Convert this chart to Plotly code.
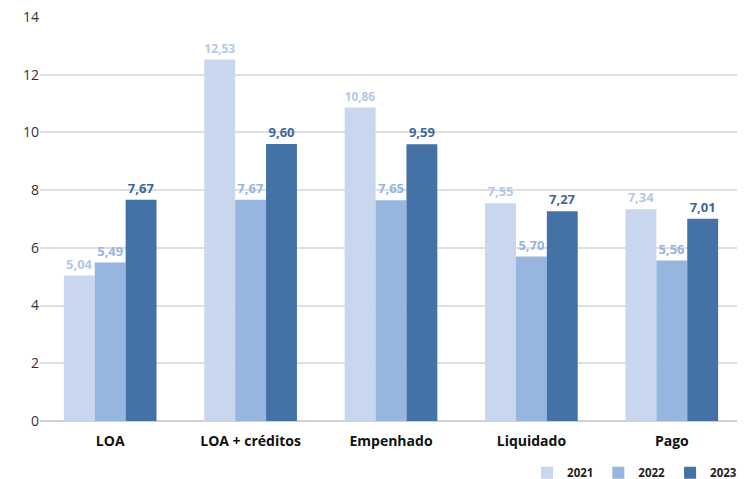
import plotly.graph_objects as go

categories = ["LOA", "LOA + créditos", "Empenhado", "Liquidado", "Pago"]
years = ["2021", "2022", "2023"]
v2021 = [5.04, 12.53, 10.86, 7.55, 7.34]
v2022 = [5.49, 7.67, 7.65, 5.70, 5.56]
v2023 = [7.67, 9.60, 9.59, 7.27, 7.01]
series = [v2021, v2022, v2023]

bar_colors = ["#C8D6EE", "#96B5DF", "#4472A6"]
label_colors = ["#B4C8E9", "#96B5DF", "#3C679C"]

fig = go.Figure()
for name, vals, bc, lc in zip(years, series, bar_colors, label_colors):
    fig.add_trace(go.Bar(
        x=categories, y=vals, name=f"<b>{name}</b>",
        marker=dict(color=bc, line=dict(width=0)),
        text=[f"<b>{v:.2f}</b>".replace(".", ",") for v in vals],
        textposition="outside",
        textfont=dict(color=lc, size=13, family="Open Sans"),
        cliponaxis=False,
    ))

fig.update_layout(
    width=737, height=471,
    margin=dict(l=32, r=3, t=9, b=58, autoexpand=False),
    barmode="group", bargap=0.34, bargroupgap=0,
    plot_bgcolor="white", paper_bgcolor="white",
    font=dict(family="Open Sans", color="#333333"),
    showlegend=True,
    legend=dict(orientation="h", xref="container", yref="paper",
                x=0.996, xanchor="right", y=-0.128, yanchor="middle",
                font=dict(size=11.5, color="#222222", family="Open Sans"),
                itemwidth=30, traceorder="normal", bgcolor="rgba(0,0,0,0)"),
)
fig.update_yaxes(range=[0, 14], tickvals=[0, 2, 4, 6, 8, 10, 12, 14],
                 ticklabeloverflow="allow",
                 showgrid=True, gridcolor="#DFDFDF", gridwidth=1.5,
                 zeroline=True, zerolinecolor="#D0D0D0", zerolinewidth=1.5,
                 tickfont=dict(size=14, color="#333333"), ticks="", ticklen=0,
                 showline=False, automargin=False)
fig.update_xaxes(tickfont=dict(size=14, color="#111111", family="Open Sans"),
                 tickprefix="<b>", ticksuffix="</b>", showline=False, ticks="",
                 ticklabelstandoff=10, automargin=False)

fig.write_html("out.html")
